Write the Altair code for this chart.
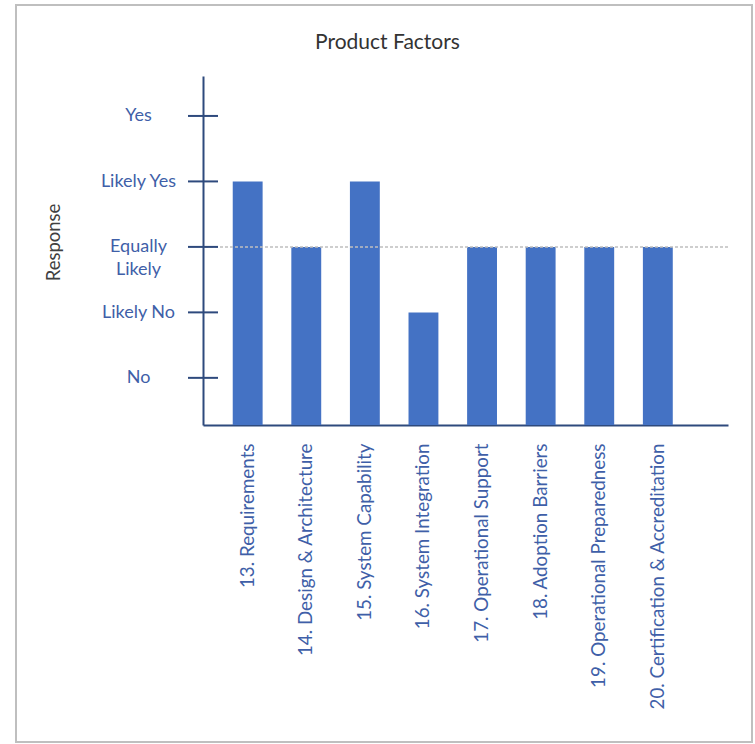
import altair as alt
import pandas as pd

categories = [
    "13. Requirements",
    "14. Design & Architecture",
    "15. System Capability",
    "16. System Integration",
    "17. Operational Support",
    "18. Adoption Barriers",
    "19. Operational Preparedness",
    "20. Certification & Accreditation",
]
values = [4, 3, 4, 2, 3, 3, 3, 3]
response_levels = [1, 2, 3, 4, 5]
response_labels = ["No", "Likely No", "Equally Likely", "Likely Yes", "Yes"]
reference_level = 3

FONT = "Lato"
NAVY = "#2E4A7D"
LABEL_BLUE = "#3F5FA8"
BAR_BLUE = "#4472C4"

bars_df = pd.DataFrame({"factor": categories, "response": values})
ticks_df = pd.DataFrame({"level": response_levels, "label": response_labels})

label_expr = (
    "datum.value == 1 ? 'No' : datum.value == 2 ? 'Likely No' : "
    "datum.value == 3 ? ['Equally', 'Likely'] : datum.value == 4 ? 'Likely Yes' : "
    "datum.value == 5 ? 'Yes' : ''"
)

yscale = alt.Scale(domain=[0.28, 5.61], zero=False, nice=False)

bars = alt.Chart(bars_df).mark_bar(color=BAR_BLUE, clip=True).encode(
    x=alt.X(
        "factor:N",
        sort=categories,
        scale=alt.Scale(paddingInner=0.49, paddingOuter=0.725, align=0.35),
        axis=alt.Axis(
            title=None,
            labelAngle=-90,
            labelFont=FONT,
            labelFontSize=18.8,
            labelColor=LABEL_BLUE,
            labelPadding=18,
            ticks=False,
            tickSize=0,
            domainColor=NAVY,
            domainWidth=2,
            grid=False,
            labelLimit=400,
        ),
    ),
    y=alt.Y(
        "response:Q",
        scale=yscale,
        axis=alt.Axis(
            values=response_levels,
            labelExpr=label_expr,
            labelFont=FONT,
            labelFontSize=18,
            labelColor=LABEL_BLUE,
            labelAlign="center",
            labelBaseline="middle",
            labelPadding=65,
            labelLineHeight=23,
            ticks=False,
            tickSize=0,
            grid=False,
            domainColor=NAVY,
            domainWidth=2,
            title="Response",
            titleFont=FONT,
            titleFontSize=18.5,
            titleFontWeight="normal",
            titleColor="#404040",
            titleX=-150,
            titleY=166,
            titleAngle=270,
            titleAlign="center",
            titleBaseline="middle",
        ),
    ),
)

ref_line = alt.Chart(pd.DataFrame({"level": [reference_level]})).mark_rule(
    color="#BFBFBF", strokeWidth=1.5, strokeDash=[3, 2]
).encode(y=alt.Y("level:Q", scale=yscale))

tick_marks = alt.Chart(ticks_df).mark_rule(color=NAVY, strokeWidth=2).encode(
    y=alt.Y("level:Q", scale=yscale),
    x=alt.value(-15),
    x2=alt.value(15),
)

border = alt.Chart(pd.DataFrame({"k": [0]})).mark_rect(
    fill=None, stroke="#BFBFBF", strokeWidth=2
).encode(
    x=alt.value(-187),
    x2=alt.value(549),
    y=alt.value(-71),
    y2=alt.value(666),
)

chart = (
    alt.layer(border, bars, ref_line, tick_marks)
    .properties(
        width=525,
        height=349,
        title=alt.TitleParams(
            "Product Factors",
            font=FONT,
            fontSize=21,
            fontWeight="normal",
            color="#333333",
            anchor="middle",
            dx=-78,
            dy=94,
            offset=28,
            baseline="alphabetic",
        ),
        autosize=alt.AutoSizeParams(type="none"),
        padding={"left": 203, "top": 76, "right": 27, "bottom": 319},
        background="white",
    )
    .configure_view(stroke=None)
)

chart.save("out.html", embed_options={"renderer": "svg", "actions": False})
